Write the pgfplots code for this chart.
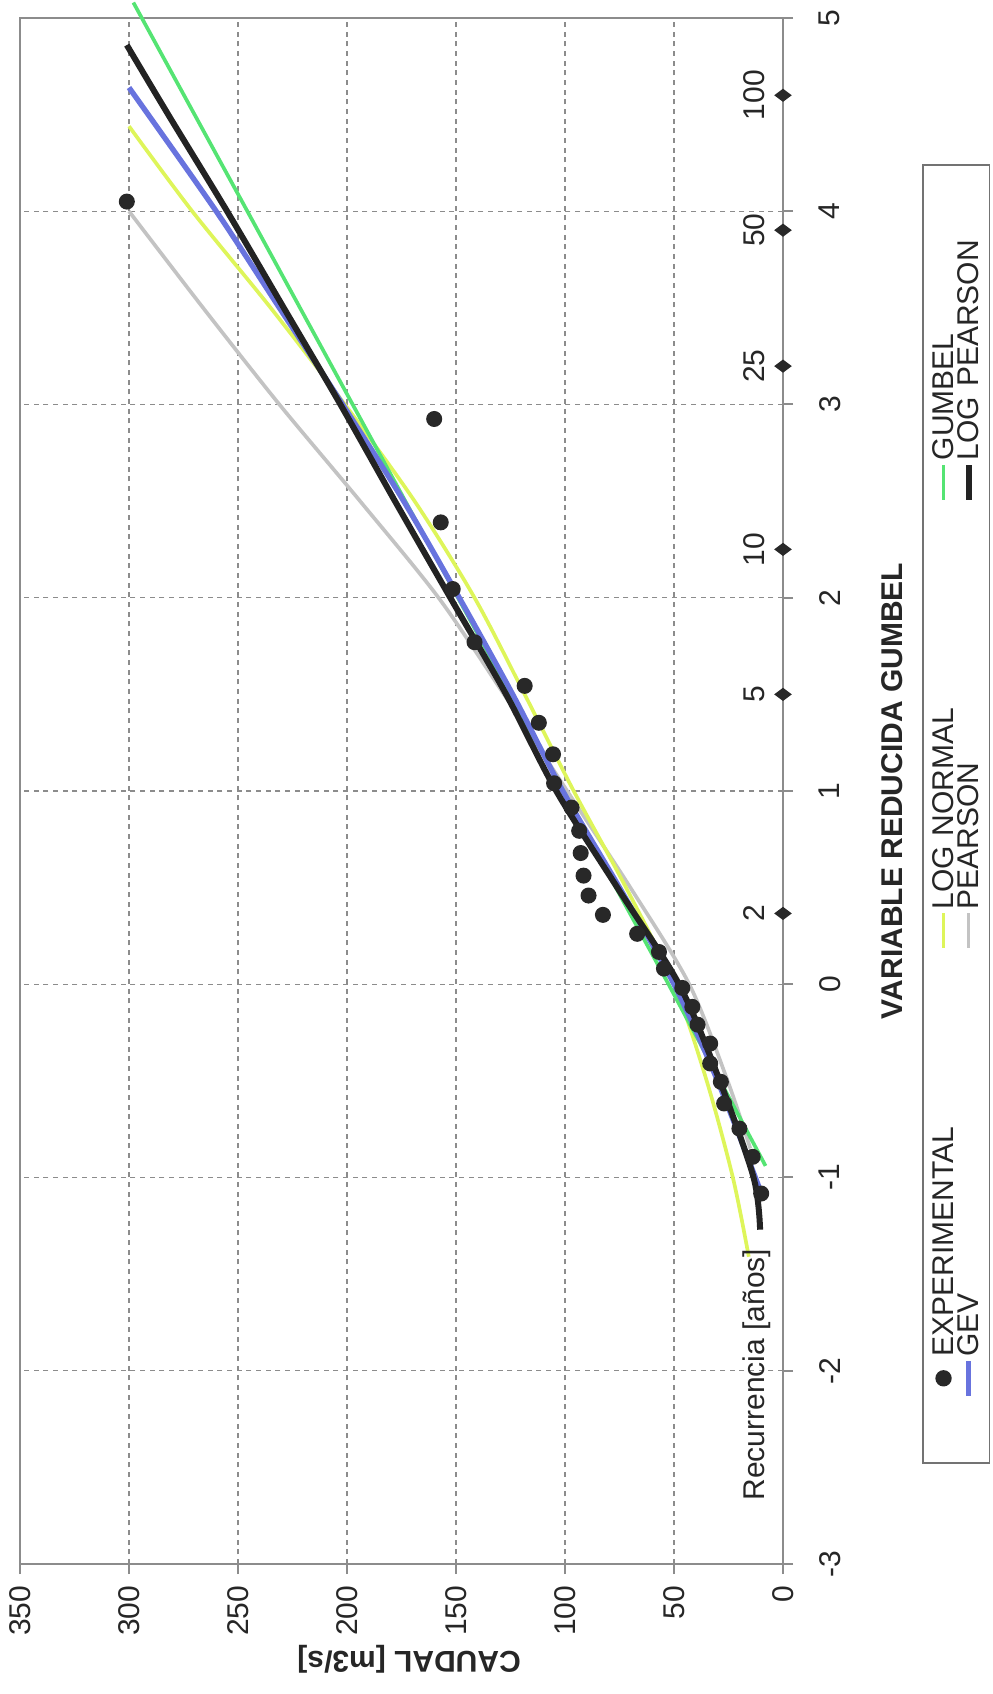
\documentclass[border=0pt]{standalone}
\usepackage{fontspec}
\setmainfont{Liberation Sans}
\usepackage{pgfplots}
\usepackage{pgfplotstable}
\pgfplotsset{compat=1.18}
\definecolor{cLN}{RGB}{222,245,90}
\definecolor{cGU}{RGB}{85,228,115}
\definecolor{cGEV}{RGB}{104,115,222}
\definecolor{cPE}{RGB}{195,195,195}
\definecolor{cLP}{RGB}{35,35,35}
\definecolor{cDot}{RGB}{40,40,40}

\pgfplotstableread{
u Q
4.05 301
2.925 160
2.39 157
2.045 151.5
1.77 141.5
1.544 118.5
1.353 112
1.19 105.5
1.04 105
0.914 97
0.794 93.5
0.679 92.8
0.562 91.5
0.459 89.2
0.359 82.6
0.261 66.9
0.167 56.9
0.081 54.6
-0.019 46.2
-0.117 41.6
-0.209 39.2
-0.307 33.4
-0.41 33.4
-0.505 28.5
-0.617 27.0
-0.747 20.0
-0.893 13.9
-1.083 10
}\expdata

\pgfplotstableread{
u Q
-0.94 8
0 52.5
1 100.8
2 149.1
3 197.4
4 245.7
5.08 298
}\gumbel

\pgfplotstableread{
u Q
-1.41 15.7
-1 23
-0.5 35
0 50
0.5 72
1 96
1.5 118.5
2 141.5
2.5 169
3 201
3.5 235
4 271
4.44 300
}\lognormal

\pgfplotstableread{
u Q
-1.05 11
-0.5 30
0 50
0.5 75
1 101
1.5 124
2 148.5
2.5 174
3 202
3.5 231
4 260
4.64 300
}\gev

\pgfplotstableread{
u Q
-1.27 10.5
-1 13.5
-0.5 29
0 47.7
0.5 76
1 104
1.5 127
2 152.6
2.5 178
3 203
3.5 229
4 255
4.5 282
4.86 301
}\logpearson

\pgfplotstableread{
u Q
-0.85 15
-0.5 25.4
0 43
0.5 70
1 99
1.5 128
2 158
2.5 194
3 231
3.5 266
4.0 300
}\pearson

\pgfplotstableread{
u Q T
0.3665 0 2
1.4999 0 5
2.2504 0 10
3.1985 0 25
3.9019 0 50
4.6001 0 100
}\recur

\begin{document}
\begin{tikzpicture}[rotate=90, transform shape]
\path[use as bounding box] (0,0) rectangle (508.2pt,297.6pt);
\begin{axis}[
  at={(39pt,62.7pt)}, anchor=south west,
  scale only axis, width=463.8pt, height=228.9pt,
  xmin=-3, xmax=5, ymin=0, ymax=350,
  xtick={-3,-2,-1,0,1,2,3,4,5},
  xticklabels={-3,-2,-1,0,1,2,3,4,5},
  ytick={0,50,100,150,200,250,300,350},
  yticklabels={0,50,100,150,200,250,300,350},
  grid=major,
  major grid style={black!45, line width=0.35pt, dash pattern=on 1.5pt off 1.4pt},
  axis line style={black!45, line width=0.6pt},
  tick style={black!45, line width=0.6pt},
  tick align=outside, major tick length=3pt,
  xtick pos=left, ytick pos=left,
  tick label style={font=\fontsize{9}{10.8}\selectfont, text=black!85},
  xticklabel style={anchor=center, yshift=-11pt},
  yticklabel style={anchor=east, xshift=0pt},
  xlabel={VARIABLE REDUCIDA GUMBEL},
  ylabel={CAUDAL [m3/s]},
  xlabel style={at={(axis description cs:0.5,-0.1429)}, anchor=center, font=\bfseries\fontsize{9}{10.8}\selectfont, text=black!85},
  ylabel style={at={(axis description cs:-0.0614,0.49)}, anchor=center, font=\bfseries\fontsize{9}{10.8}\selectfont, text=black!85},
  clip=false,
  legend columns=3,
  legend cell align=left,
  legend image code/.code={\draw[mark repeat=2,mark phase=2,#1] plot coordinates {(0pt,0pt) (5.2pt,0pt) (10.4pt,0pt)};},
  legend style={at={(axis description cs:0.0647,-0.182)}, anchor=north west,
    draw=black!55, line width=0.5pt, fill=white,
    font=\fontsize{9}{10}\selectfont, text=black!85,
    inner xsep=5pt, inner ysep=2.5pt, row sep=0pt,
    /tikz/every odd column/.style={column sep=0pt},
    /tikz/every even column/.style={column sep=38.6pt},
    nodes={inner xsep=0.5pt, inner ysep=0pt, text width=83pt, text height=6.6pt, text depth=0.9pt}},
]
\addlegendimage{only marks, mark=*, mark size=2.2pt, cDot,
  legend image code/.code={\path (-15pt,0pt); \draw[mark repeat=2,mark phase=2,##1] plot coordinates {(0pt,0pt) (5.2pt,0pt) (10.4pt,0pt)};}}
\addlegendentry{EXPERIMENTAL}
\addlegendimage{cLN, line width=1.1pt}
\addlegendentry{LOG NORMAL}
\addlegendimage{cGU, line width=1.1pt}
\addlegendentry{GUMBEL}
\addlegendimage{cGEV, line width=1.6pt}
\addlegendentry{GEV}
\addlegendimage{cPE, line width=1.1pt}
\addlegendentry{PEARSON}
\addlegendimage{cLP, line width=1.8pt}
\addlegendentry{LOG PEARSON}

\addplot[forget plot, cPE, line width=1.1pt, smooth] table[x=u,y=Q] {\pearson};
\addplot[forget plot, cLN, line width=1.1pt, smooth] table[x=u,y=Q] {\lognormal};
\addplot[forget plot, cGU, line width=1.1pt] table[x=u,y=Q] {\gumbel};
\addplot[forget plot, cGEV, line width=1.6pt, smooth] table[x=u,y=Q] {\gev};
\addplot[forget plot, cLP, line width=1.8pt, smooth] table[x=u,y=Q] {\logpearson};
\addplot[forget plot, only marks, mark=*, mark size=2.2pt, cDot] table[x=u,y=Q] {\expdata};
\addplot[forget plot, only marks, mark=diamond*, mark size=2.3pt, cDot,
  nodes near coords, point meta=explicit symbolic,
  nodes near coords style={font=\fontsize{9}{10.8}\selectfont, text=black!85, anchor=base, inner sep=0pt, yshift=5.7pt}]
  table[x=u,y=Q,meta=T] {\recur};
\node[font=\fontsize{9}{10.8}\selectfont, text=black!85, anchor=base, inner sep=0pt] at (axis cs:-2.02,0) [yshift=5.7pt] {Recurrencia [años]};
\end{axis}
\end{tikzpicture}
\end{document}
